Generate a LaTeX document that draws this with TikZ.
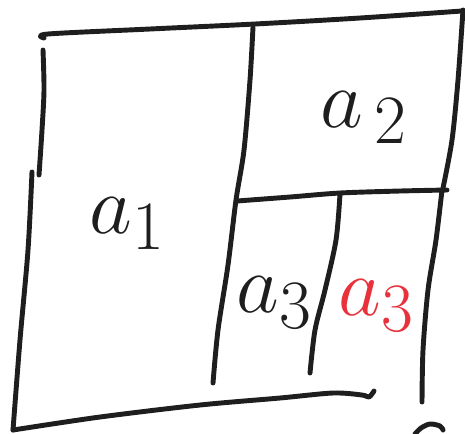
\documentclass[tikz,border=0pt]{standalone}
\usepackage{xcolor}
\usepackage{tikz}
\definecolor{inkx}{HTML}{1E1E1E}
\definecolor{redx}{HTML}{E8313B}
\tikzset{
  pen/.style={inkx,line width=2.8pt,line cap=round,line join=round},
  lbl/.style={inkx,font=\Huge,scale=1.9,inner sep=0pt}
}

\begin{document}
\begin{tikzpicture}[x=0.02cm,y=-0.02cm]
\useasboundingbox (0,0) rectangle (465,433);
% outer frame, drawn in separate strokes
\draw[pen] plot[smooth] coordinates {(44,38) (48,34) (150,29) (255,24) (360,18) (462,11)};
\draw[pen] plot[smooth] coordinates {(43,50) (44,90) (42,130) (39,175)};
\draw[pen] plot[smooth] coordinates {(32,172) (28,250) (20,340) (13,430)};
\draw[pen] plot[smooth] coordinates {(463,10) (458,80) (452,140) (443,188)};
\draw[pen] plot[smooth] coordinates {(442,190) (436,240) (428,290) (423,350) (422,402)};
\draw[pen] plot[smooth] coordinates {(13,430) (100,417) (200,405) (280,398) (333,393) (362,395) (369,397) (374,391)};
% inner cuts
\draw[pen] plot[smooth] coordinates {(253,27) (250,80) (244,150) (236,200) (228,265) (218,330) (213,383)};
\draw[pen] plot[smooth] coordinates {(237,201) (290,197) (340,193) (400,191) (447,190)};
\draw[pen] plot[smooth] coordinates {(340,194) (336,240) (325,290) (315,330) (310,373)};
% cut-off letter at the corner
\draw[pen] plot[smooth] coordinates {(415,434) (421,428) (430,424) (440,426) (443,430)};
% labels
\node[lbl] (lblone) at (128,224) {$a_1$};
\node[lbl] (lbltwo) at (364,118) {$a_{\,2}$};
\node[lbl] (lblthree) at (275,303) {$a_3$};
\node[lbl,redx] (lblthreer) at (377,306) {$a_3$};
\end{tikzpicture}
\end{document}
